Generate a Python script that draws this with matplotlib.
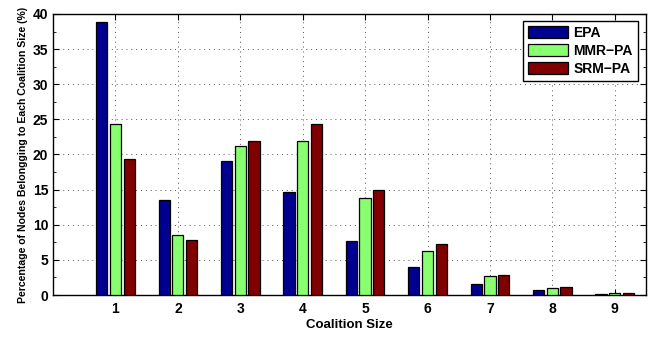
import numpy as np
import matplotlib
matplotlib.use("Agg")
import matplotlib.pyplot as plt
from matplotlib.ticker import MultipleLocator

# Datos
coalition_size = [1, 2, 3, 4, 5, 6, 7, 8, 9]
epa = [38.9, 13.5, 19.1, 14.6, 7.7, 4.0, 1.5, 0.7, 0.15]
mmr_pa = [24.4, 8.5, 21.2, 21.95, 13.8, 6.2, 2.75, 0.95, 0.3]
srm_pa = [19.3, 7.8, 21.9, 24.4, 15.0, 7.2, 2.85, 1.1, 0.3]

series = [("EPA", epa, "#000090"), ("MMR\u2212PA", mmr_pa, "#88FF6E"), ("SRM\u2212PA", srm_pa, "#800000")]

plt.rcParams["font.family"] = ["Liberation Sans", "DejaVu Sans"]
plt.rcParams["font.weight"] = "bold"

fig = plt.figure(figsize=(6.67, 3.37), dpi=100)
ax = fig.add_axes([0.0795, 0.1246, 0.889, 0.834])

x = np.array(coalition_size, dtype=float)
offsets = [-0.22, 0.0, 0.22]
for (name, vals, color), off in zip(series, offsets):
    ax.bar(x + off, vals, width=0.18, color=color, edgecolor="black", linewidth=0.9, label=name, zorder=3)

ax.set_xlim(0, 9.5)
ax.set_ylim(0, 40)
ax.set_xticks(coalition_size)
ax.yaxis.set_major_locator(MultipleLocator(5))
ax.yaxis.set_minor_locator(MultipleLocator(2.5))
ax.tick_params(which="both", direction="in", top=True, right=True, labelsize=10)
ax.tick_params(which="major", length=4)
ax.tick_params(which="minor", length=2)
ax.tick_params(axis="x", pad=5)
for lab in ax.get_xticklabels() + ax.get_yticklabels():
    lab.set_fontweight("bold")
ax.grid(True, which="major", linestyle=(0, (1, 4)), color="#555555", linewidth=0.7, zorder=0)
ax.set_axisbelow(True)
for sp in ax.spines.values():
    sp.set_linewidth(1.0)

ax.set_xlabel("Coalition Size", fontsize=9.5, fontweight="bold", labelpad=2)
ax.set_ylabel("Percentage of Nodes Belongging to Each Coalition Size (%)", fontsize=7.6, fontweight="bold", labelpad=3)

leg = ax.legend(loc="upper right", fontsize=10, fancybox=False, framealpha=1, edgecolor="black",
                handlelength=2.9, handleheight=0.95, borderpad=0.35, labelspacing=0.3, handletextpad=0.4,
                borderaxespad=0.3, bbox_to_anchor=(0.993, 0.99))
leg.get_frame().set_linewidth(1.0)
for t in leg.get_texts():
    t.set_fontweight("bold")

fig.savefig("out.png", dpi=100)
